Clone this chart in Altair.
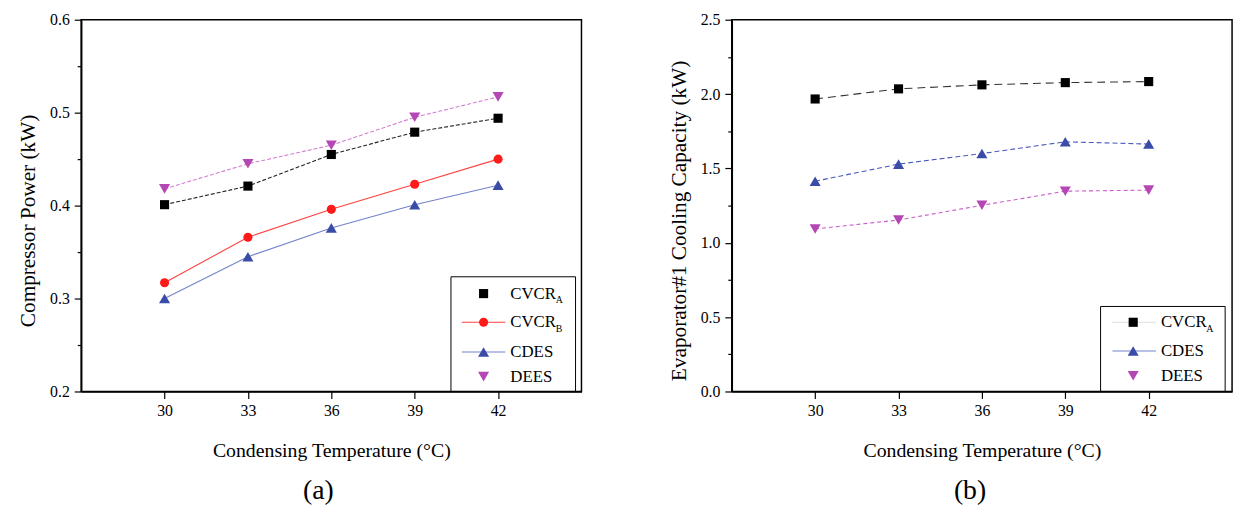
import altair as alt
import pandas as pd

FONT = "Liberation Serif"

# ---------------- data ----------------
temps = [30, 33, 36, 39, 42]
x_ticks = [30, 33, 36, 39, 42]

# panel (a): compressor power (kW)
a_cvcr_a = [0.401, 0.421, 0.455, 0.479, 0.494]
a_cvcr_b = [0.317, 0.366, 0.396, 0.423, 0.450]
a_cdes = [0.300, 0.345, 0.376, 0.401, 0.422]
a_dees = [0.418, 0.445, 0.465, 0.495, 0.517]
a_y_ticks = [0.2, 0.25, 0.3, 0.35, 0.4, 0.45, 0.5, 0.55, 0.6]

# panel (b): evaporator#1 cooling capacity (kW)
b_cvcr_a = [1.967, 2.035, 2.062, 2.077, 2.084]
b_cdes = [1.414, 1.529, 1.600, 1.679, 1.664]
b_dees = [1.093, 1.153, 1.252, 1.347, 1.354]
b_y_ticks = [0.0, 0.25, 0.5, 0.75, 1.0, 1.25, 1.5, 1.75, 2.0, 2.25, 2.5]

W, H = 506, 376
SIZES = {"square": 85, "circle": 85, "triangle-up": 125, "triangle-down": 125}

AXIS_STYLE = dict(labelFont=FONT, labelFontSize=16, labelColor="black",
                  titleFont=FONT, titleFontWeight="normal", titleColor="black",
                  domainColor="black", domainWidth=1.6, tickColor="black",
                  tickWidth=1.2, grid=False)


def x_enc():
    return alt.X(
        "T:Q",
        scale=alt.Scale(domain=[27, 45], nice=False, zero=False),
        axis=alt.Axis(values=x_ticks, title="Condensing Temperature (°C)",
                      tickSize=7, labelPadding=4, titlePadding=23, format="d",
                      titleFontSize=20, **AXIS_STYLE),
    )


def y_enc(domain, ticks, title, major_test):
    return alt.Y(
        "v:Q",
        scale=alt.Scale(domain=domain, nice=False, zero=False),
        axis=alt.Axis(
            values=ticks, title=title, format=".1f",
            labelExpr=f"({major_test}) ? format(datum.value, '.1f') : ''",
            tickSize={"condition": {"test": major_test, "value": 7}, "value": 4},
            labelPadding=5, titlePadding=10, titleFontSize=21.5, titleY=203,
            **AXIS_STYLE,
        ),
    )


def series(values, ydef, pcolor, lcolor, shape, dash=None, lw=1.1):
    df = pd.DataFrame({"T": temps, "v": values})
    base = alt.Chart(df)
    lkw = dict(color=lcolor, strokeWidth=lw)
    if dash:
        lkw["strokeDash"] = dash
    line = base.mark_line(**lkw).encode(x=x_enc(), y=ydef)
    pts = base.mark_point(shape=shape, filled=True, color=pcolor, size=SIZES[shape],
                          opacity=1).encode(x=x_enc(), y=ydef)
    return line, pts


def one(label):
    return alt.Chart(pd.DataFrame({"t": [label]}))


def legend(entries, box, sym_x, line_x, text_x):
    layers = []
    x1, x2, y1, y2 = box
    layers.append(one("box").mark_rect(fillOpacity=0, stroke="black", strokeWidth=1).encode(
        x=alt.value(x1), x2=alt.value(x2), y=alt.value(y1), y2=alt.value(y2)))
    for (main, sub, y, pcolor, shape, lcolor) in entries:
        if lcolor:
            layers.append(one(main).mark_rule(color=lcolor, strokeWidth=1.1).encode(
                x=alt.value(line_x[0]), x2=alt.value(line_x[1]), y=alt.value(y)))
        layers.append(one(main).mark_point(shape=shape, filled=True, color=pcolor,
                                           size=SIZES[shape], opacity=1).encode(
            x=alt.value(sym_x), y=alt.value(y)))
        layers.append(one(main).mark_text(align="left", baseline="middle", font=FONT,
                                          fontSize=17, color="black").encode(
            x=alt.value(text_x), y=alt.value(y), text="t:N"))
        if sub:
            layers.append(one(sub).mark_text(align="left", baseline="middle", font=FONT,
                                             fontSize=10, color="black").encode(
                x=alt.value(text_x + 46), y=alt.value(y + 7), text="t:N"))
    return layers


def panel_title(txt, dx):
    return alt.TitleParams(txt, orient="bottom", anchor="middle", fontSize=28,
                           font=FONT, fontWeight="normal", offset=17, dx=dx,
                           color="black")


# ---------------- panel (a) ----------------
ya = y_enc([0.2, 0.6], a_y_ticks, "Compressor Power (kW)",
           "abs(datum.value*10 - round(datum.value*10)) < 0.001")
la1, pa1 = series(a_cvcr_a, ya, "#000000", "#222222", "square", [4, 2])
la2, pa2 = series(a_cvcr_b, ya, "#ff1a1a", "#ff4040", "circle")
la3, pa3 = series(a_cdes, ya, "#3a4ca8", "#7482cc", "triangle-up")
la4, pa4 = series(a_dees, ya, "#b447b4", "#d27fd2", "triangle-down", [4, 2])

leg_a = legend(
    [("CVCR", "A", 277, "#000000", "square", None),
     ("CVCR", "B", 306, "#ff1a1a", "circle", "#ff4040"),
     ("CDES", None, 336, "#3a4ca8", "triangle-up", "#7482cc"),
     ("DEES", None, 361, "#b447b4", "triangle-down", None)],
    (374, 500, 260, H), 407, (385, 429), 434)

panel_a = alt.layer(la1, la2, la3, la4, pa1, pa2, pa3, pa4, *leg_a).properties(
    width=W, height=H, title=panel_title("(a)", -13),
)

# ---------------- panel (b) ----------------
yb = y_enc([0.0, 2.5], b_y_ticks, "Evaporator#1 Cooling Capacity (kW)",
           "abs(datum.value*2 - round(datum.value*2)) < 0.001")
lb1, pb1 = series(b_cvcr_a, yb, "#000000", "#333333", "square", [8, 5])
lb3, pb3 = series(b_cdes, yb, "#3a4ca8", "#4858bb", "triangle-up", [5, 3])
lb4, pb4 = series(b_dees, yb, "#b447b4", "#cc5acc", "triangle-down", [4, 3])

leg_b = legend(
    [("CVCR", "A", 306, "#000000", "square", "#dddddd"),
     ("CDES", None, 335, "#3a4ca8", "triangle-up", "#7482cc"),
     ("DEES", None, 360, "#b447b4", "triangle-down", None)],
    (373, 499, 290, H), 406, (385, 429), 434)

panel_b = alt.layer(lb1, lb3, lb4, pb1, pb3, pb4, *leg_b).properties(
    width=W, height=H, title=panel_title("(b)", -12),
)

chart = alt.hconcat(panel_a, panel_b, spacing=86).properties(
    padding={"left": 9, "top": 0, "right": 5, "bottom": 0},
    background="white",
).configure_view(
    stroke="black", strokeWidth=1.5,
).configure_axis(
    labelFont=FONT, titleFont=FONT,
)

chart.save("out.html", embed_options={"renderer": "svg", "actions": False})
